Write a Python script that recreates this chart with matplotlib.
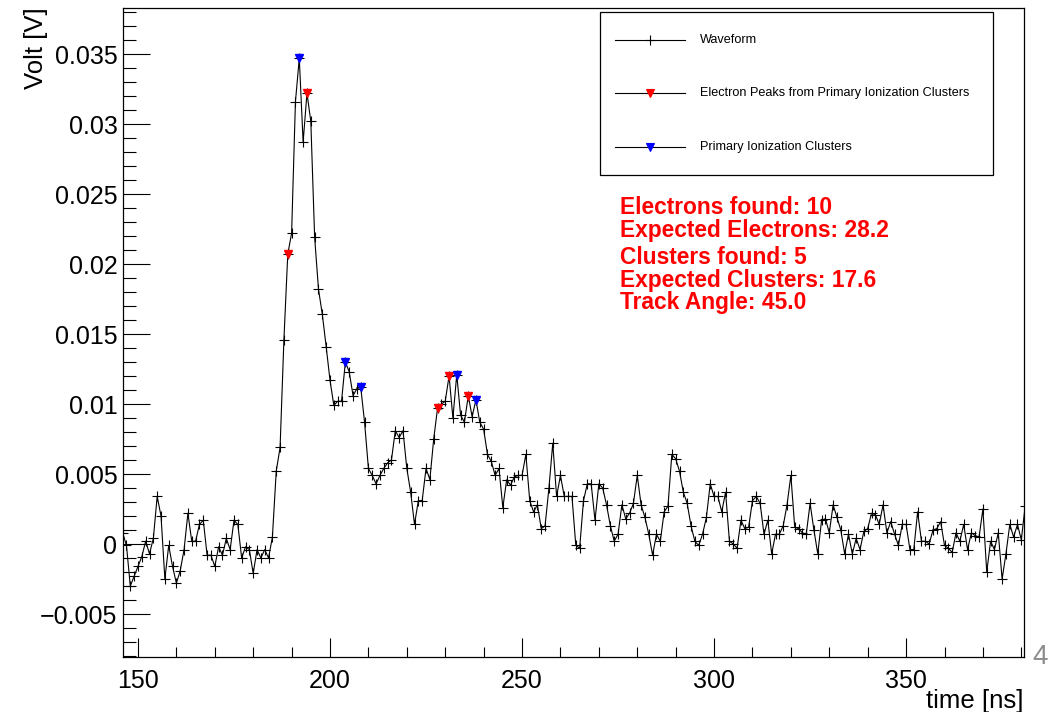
import numpy as np
import matplotlib
matplotlib.use("Agg")
import matplotlib.pyplot as plt
from matplotlib.lines import Line2D
from matplotlib.patches import Rectangle
from matplotlib.ticker import MultipleLocator, FuncFormatter

plt.rcParams['font.family'] = ['Liberation Sans', 'DejaVu Sans']

# sampled waveform, 1 ns per sample starting at 146 ns
t_start = 146.0
dt = 1.0
volts = [
    0.0008, -0.0001, -0.0030, -0.0023, -0.0016, -0.0009, 0.0002, -0.0007, 0.0004, 0.0034,
    0.0020, -0.0025, -0.0001, -0.0016, -0.0028, -0.0019, -0.0004, 0.0022, 0.0002, 0.0002,
    0.0014, 0.0017, -0.0008, -0.0008, -0.0016, -0.0002, -0.0008, 0.0004, -0.0004, 0.0017,
    0.0014, -0.0010, -0.0002, -0.0004, -0.0021, -0.0004, -0.0010, -0.0004, -0.0010, 0.0005,
    0.0052, 0.0069, 0.0146, 0.0207, 0.0222, 0.0316, 0.0347, 0.0287, 0.0322, 0.0302,
    0.0219, 0.0182, 0.0164, 0.0141, 0.0117, 0.0099, 0.0102, 0.0102, 0.0130, 0.0123,
    0.0106, 0.0111, 0.0112, 0.0087, 0.0054, 0.0049, 0.0043, 0.0049, 0.0054, 0.0058,
    0.0060, 0.0081, 0.0076, 0.0081, 0.0054, 0.0037, 0.0014, 0.0031, 0.0031, 0.0054,
    0.0046, 0.0075, 0.0097, 0.0100, 0.0102, 0.0120, 0.0090, 0.0121, 0.0092, 0.0087,
    0.0106, 0.0091, 0.0103, 0.0087, 0.0082, 0.0064, 0.0059, 0.0049, 0.0054, 0.0026,
    0.0046, 0.0042, 0.0048, 0.0049, 0.0049, 0.0064, 0.0031, 0.0023, 0.0028, 0.0011,
    0.0013, 0.0040, 0.0072, 0.0034, 0.0049, 0.0034, 0.0034, 0.0034, -0.0001, -0.0003,
    0.0031, 0.0043, 0.0043, 0.0017, 0.0043, 0.0040, 0.0028, 0.0013, 0.0002, 0.0007,
    0.0028, 0.0018, 0.0022, 0.0029, 0.0049, 0.0028, 0.0019, 0.0007, -0.0008, 0.0007,
    0.0002, 0.0023, 0.0027, 0.0064, 0.0061, 0.0052, 0.0037, 0.0029, 0.0013, 0.0002,
    -0.0001, 0.0007, 0.0019, 0.0043, 0.0034, 0.0034, 0.0023, 0.0037, 0.0002, 0.0000,
    -0.0003, 0.0017, 0.0011, 0.0012, 0.0031, 0.0034, 0.0029, 0.0007, 0.0017, -0.0007,
    0.0007, 0.0007, 0.0013, 0.0028, 0.0049, 0.0012, 0.0011, 0.0008, 0.0007, 0.0029,
    0.0010, -0.0007, 0.0017, 0.0018, 0.0008, 0.0028, 0.0019, 0.0010, -0.0007, 0.0007,
    -0.0007, 0.0004, -0.0004, 0.0009, 0.0011, 0.0022, 0.0021, 0.0014, 0.0028, 0.0008,
    0.0016, 0.0007, -0.0001, 0.0014, 0.0014, -0.0004, -0.0004, 0.0023, 0.0002, 0.0002,
    0.0000, 0.0010, 0.0011, 0.0016, -0.0001, -0.0003, -0.0006, 0.0008, 0.0002, 0.0014,
    -0.0004, 0.0008, 0.0006, 0.0005, 0.0025, -0.0020, 0.0002, -0.0004, 0.0008, -0.0025,
    -0.0007, 0.0014, 0.0005, 0.0014, 0.0003, 0.0027,
]
time_ns = t_start + dt * np.arange(len(volts))
volts = np.array(volts)

# found peaks (sample times in ns)
electron_t = [189, 194, 228, 231, 236]
cluster_t = [192, 204, 208, 233, 238]

info_lines = [
    "Electrons found: 10",
    "Expected Electrons: 28.2",
    "Clusters found: 5",
    "Expected Clusters: 17.6",
    "Track Angle: 45.0",
]
legend_labels = [
    "Waveform",
    "Electron Peaks from Primary Ionization Clusters",
    "Primary Ionization Clusters",
]

W, H = 1050, 712
fig = plt.figure(figsize=(W / 100, H / 100), dpi=100)
L, R, T, B = 123, 1024, 8, 657
ax = fig.add_axes([L / W, 1 - B / H, (R - L) / W, (B - T) / H])


def px(x, y):
    return x / W, 1 - y / H


ax.plot(time_ns, volts, color='black', lw=0.8, marker='+', ms=7.5, mew=0.8)

e_idx = [int(round((t - t_start) / dt)) for t in electron_t]
c_idx = [int(round((t - t_start) / dt)) for t in cluster_t]
ax.plot(time_ns[e_idx], volts[e_idx], ls='none', marker='v', ms=6, color='#ff0000', mec='#ff0000')
ax.plot(time_ns[c_idx], volts[c_idx], ls='none', marker='v', ms=6, color='#0000ff', mec='#0000ff')

ax.set_xlim(146.1, 380.7)
ax.set_ylim(-0.00807, 0.03829)

ax.xaxis.set_major_locator(MultipleLocator(50))
ax.xaxis.set_minor_locator(MultipleLocator(10))
ax.yaxis.set_major_locator(MultipleLocator(0.005))
ax.yaxis.set_minor_locator(MultipleLocator(0.001))
ax.yaxis.set_major_formatter(FuncFormatter(lambda v, p: ('%g' % round(v, 4)).replace('-', '\u2212')))

ax.tick_params(axis='x', which='major', direction='in', length=14, width=0.8, labelsize=18, pad=9)
ax.tick_params(axis='x', which='minor', direction='in', length=7, width=0.8)
ax.tick_params(axis='y', which='major', direction='in', length=19.5, width=0.8, labelsize=18, pad=4)
ax.tick_params(axis='y', which='minor', direction='in', length=9.7, width=0.8)
for s in ax.spines.values():
    s.set_linewidth(0.9)

fig.text(*px(1024, 708), "time [ns]", ha='right', va='baseline', fontsize=18.5)
fig.text(*px(36, 7), "Volt [V]", ha='center', va='top', rotation=90, fontsize=18.5)
fig.text(*px(1040, 657), "4", ha='center', va='center', fontsize=20, color='#8c8c8c')

# legend box
x0, y0 = px(600, 175)
x1, y1 = px(993, 12)
fig.patches.append(Rectangle((x0, y0), x1 - x0, y1 - y0, transform=fig.transFigure,
                             fill=True, facecolor='white', edgecolor='black', lw=0.9))
rows = [40, 93, 147]
styles = [('+', 'black', 7), ('v', '#ff0000', 6), ('v', '#0000ff', 6)]
for yy, lab, (mk, col, ms) in zip(rows, legend_labels, styles):
    xa, ya = px(615, yy)
    xb, _ = px(685, yy)
    xm, _ = px(650, yy)
    fig.lines.append(Line2D([xa, xb], [ya, ya], transform=fig.transFigure, color='black', lw=0.8))
    fig.lines.append(Line2D([xm], [ya], transform=fig.transFigure, ls='none', marker=mk,
                            ms=ms, color=col, mec=col, mew=0.8))
    fig.text(*px(700, yy), lab, ha='left', va='center', fontsize=9.1)

# reconstruction summary
for yy, line in zip([207, 230, 257, 280, 302], info_lines):
    fig.text(*px(620, yy), line, ha='left', va='center', fontsize=16.4,
             fontweight='bold', color='#ff0000')

fig.savefig("out.png", dpi=100)
